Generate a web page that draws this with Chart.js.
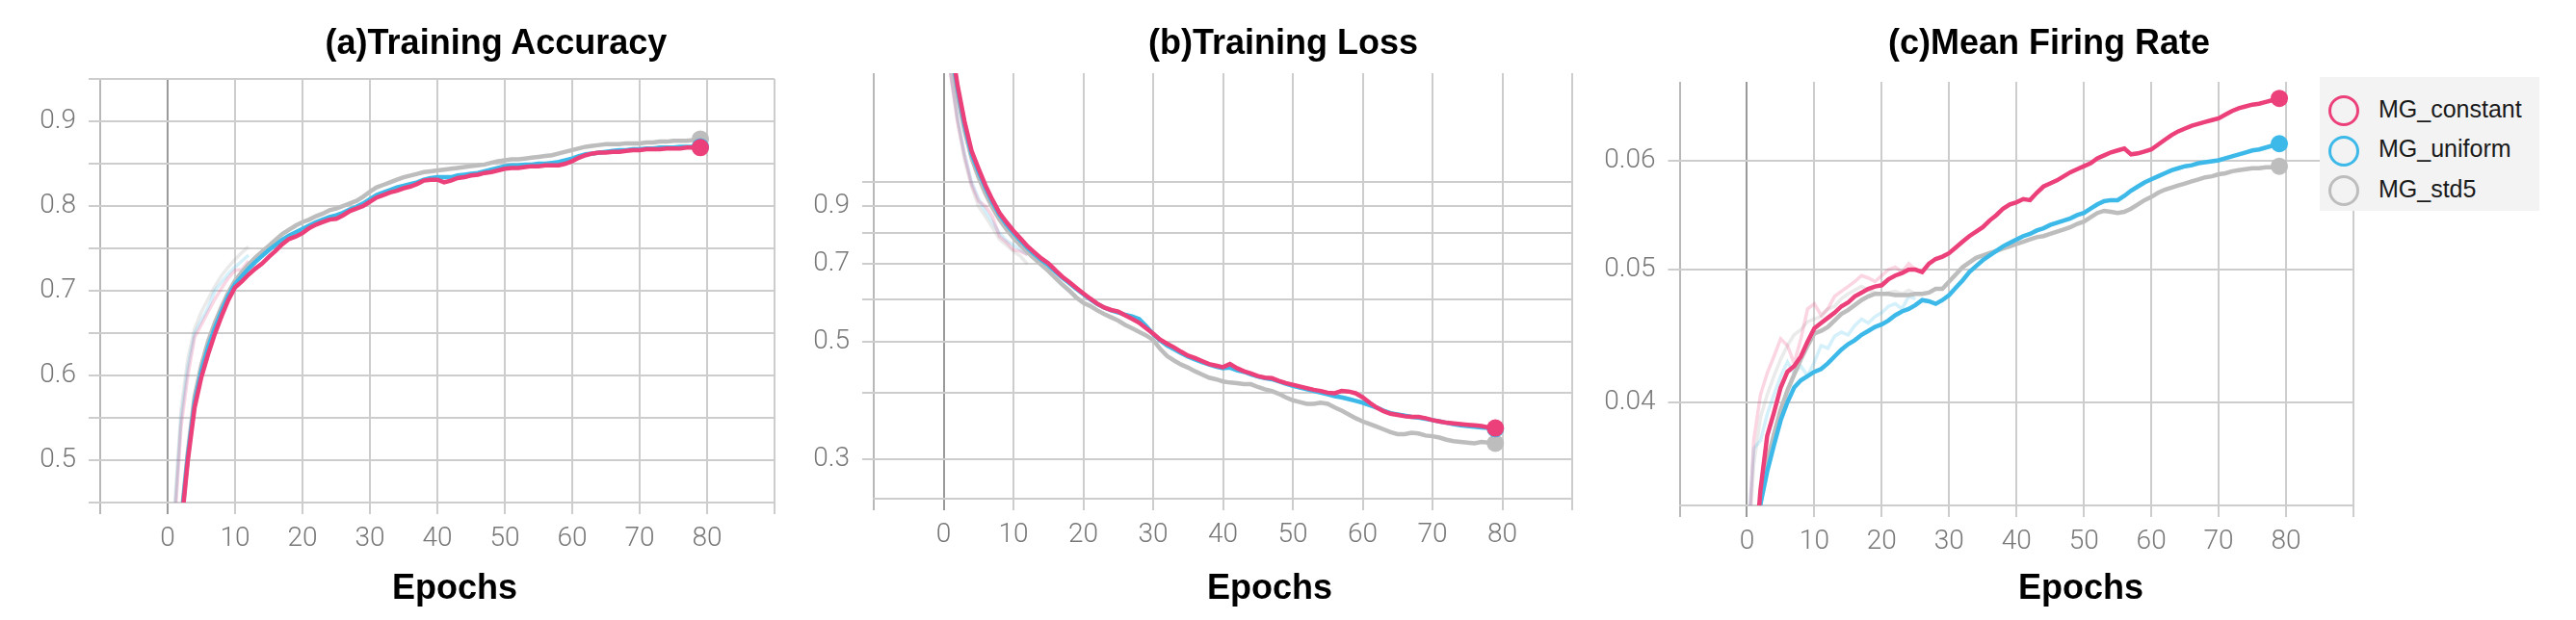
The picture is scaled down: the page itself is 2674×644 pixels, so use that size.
<!DOCTYPE html>
<html lang="en">
<head>
<meta charset="UTF-8">
<title>MG training curves</title>
<script src="https://cdn.jsdelivr.net/npm/chart.js"></script>
<style>
    body {
        margin: 0;
        width: 2674px;
        height: 644px;
        position: relative;
        overflow: hidden;
        background: #fff;
        font-family: 'Liberation Sans', Arial, sans-serif;
    }
    .panel {
        position: absolute;
        top: 0;
        height: 600px;
    }
    .caption {
        position: absolute;
        font-weight: bold;
        font-size: 36px;
        line-height: 36px;
        color: #000;
        white-space: nowrap;
        transform: translateX(-50%);
    }
    .legend {
        position: absolute;
        left: 2408px;
        top: 80px;
        width: 228px;
        height: 139px;
        background: #f3f3f3;
        z-index: 2;
    }
    .legend .dot {
        position: absolute;
        left: 9px;
        width: 26px;
        height: 26px;
        border: 3px solid;
        border-radius: 50%;
    }
    .legend .name {
        position: absolute;
        left: 61px;
        font-size: 25px;
        line-height: 25px;
        color: #1a1a1a;
    }
</style>
</head>
<body>
<div class="panel" style="left:0px;width:830px"><canvas id="accChart"></canvas></div>
<div class="panel" style="left:840px;width:810px"><canvas id="lossChart"></canvas></div>
<div class="panel" style="left:1650px;width:1024px"><canvas id="rateChart"></canvas></div>

<div class="caption" style="left:515px;top:26px">(a)Training Accuracy</div>
<div class="caption" style="left:1332px;top:26px">(b)Training Loss</div>
<div class="caption" style="left:2127px;top:26px">(c)Mean Firing Rate</div>
<div class="caption" style="left:472px;top:592px">Epochs</div>
<div class="caption" style="left:1318px;top:592px">Epochs</div>
<div class="caption" style="left:2160px;top:592px">Epochs</div>

<div class="legend" id="legend"></div>

<script>
const epochs = Array.from({ length: 80 }, (_, i) => i);
const seriesNames = ['MG_constant', 'MG_uniform', 'MG_std5'];
const seriesColors = ['#ec407a', '#3cb9e8', '#bdbdbd'];
const rawColors = ['rgba(236,64,122,0.22)', 'rgba(60,185,232,0.22)', 'rgba(160,160,160,0.22)'];

// (a) training accuracy, smoothed
const accConstant = [0.30, 0.37, 0.42, 0.50, 0.562, 0.598, 0.625, 0.649, 0.670, 0.689,
    0.704, 0.711, 0.719, 0.726, 0.732, 0.740, 0.747, 0.755, 0.761, 0.764,
    0.768, 0.774, 0.778, 0.781, 0.784, 0.785, 0.789, 0.794, 0.797, 0.800,
    0.805, 0.810, 0.813, 0.816, 0.818, 0.821, 0.823, 0.826, 0.830, 0.831,
    0.831, 0.828, 0.830, 0.833, 0.834, 0.836, 0.837, 0.839, 0.840, 0.842,
    0.844, 0.845, 0.845, 0.846, 0.847, 0.847, 0.848, 0.848, 0.848, 0.850,
    0.853, 0.857, 0.860, 0.862, 0.863, 0.863, 0.864, 0.864, 0.865, 0.866,
    0.866, 0.867, 0.867, 0.867, 0.868, 0.868, 0.868, 0.869, 0.869, 0.869];
const accUniform = [0.30, 0.37, 0.425, 0.505, 0.568, 0.605, 0.633, 0.656, 0.676, 0.694,
    0.708, 0.717, 0.726, 0.734, 0.741, 0.748, 0.754, 0.760, 0.765, 0.769,
    0.773, 0.777, 0.781, 0.784, 0.787, 0.789, 0.792, 0.796, 0.799, 0.803,
    0.808, 0.813, 0.816, 0.819, 0.822, 0.824, 0.826, 0.828, 0.831, 0.833,
    0.834, 0.834, 0.834, 0.836, 0.837, 0.838, 0.839, 0.841, 0.843, 0.845,
    0.847, 0.848, 0.848, 0.849, 0.849, 0.850, 0.850, 0.851, 0.852, 0.854,
    0.856, 0.859, 0.861, 0.862, 0.863, 0.864, 0.865, 0.866, 0.866, 0.867,
    0.867, 0.868, 0.868, 0.869, 0.869, 0.869, 0.870, 0.870, 0.870, 0.870];
const accStd5 = [0.31, 0.38, 0.43, 0.51, 0.575, 0.612, 0.640, 0.662, 0.681, 0.698,
    0.712, 0.722, 0.731, 0.739, 0.746, 0.753, 0.760, 0.767, 0.772, 0.777,
    0.781, 0.784, 0.788, 0.791, 0.795, 0.797, 0.800, 0.803, 0.806, 0.811,
    0.817, 0.822, 0.825, 0.828, 0.831, 0.834, 0.836, 0.838, 0.840, 0.841,
    0.842, 0.843, 0.844, 0.845, 0.846, 0.847, 0.848, 0.849, 0.851, 0.853,
    0.854, 0.855, 0.855, 0.856, 0.857, 0.858, 0.859, 0.860, 0.862, 0.864,
    0.866, 0.868, 0.870, 0.871, 0.872, 0.873, 0.873, 0.873, 0.874, 0.874,
    0.874, 0.875, 0.875, 0.876, 0.876, 0.877, 0.877, 0.877, 0.878, 0.879];
// (a) raw (unsmoothed) values, first epochs only
const accRawConstant = [0.33, 0.42, 0.54, 0.60, 0.645, 0.66, 0.675, 0.69, 0.703, 0.715, 0.724, 0.725, 0.735];
const accRawUniform = [0.33, 0.43, 0.55, 0.61, 0.65, 0.665, 0.68, 0.70, 0.71, 0.72, 0.728, 0.735, 0.742];
const accRawStd5 = [0.34, 0.44, 0.56, 0.62, 0.655, 0.675, 0.69, 0.705, 0.718, 0.728, 0.737, 0.745, 0.752];

// (b) training loss, smoothed
const lossConstant = [2.30, 1.85, 1.52, 1.30, 1.145, 1.06, 0.985, 0.925, 0.875, 0.84,
    0.809, 0.783, 0.757, 0.737, 0.718, 0.703, 0.682, 0.663, 0.648, 0.632,
    0.617, 0.603, 0.590, 0.580, 0.574, 0.570, 0.561, 0.552, 0.543, 0.530,
    0.518, 0.505, 0.496, 0.488, 0.479, 0.471, 0.466, 0.460, 0.454, 0.451,
    0.448, 0.454, 0.446, 0.440, 0.436, 0.431, 0.428, 0.427, 0.422, 0.418,
    0.415, 0.412, 0.409, 0.406, 0.404, 0.401, 0.400, 0.404, 0.403, 0.400,
    0.393, 0.384, 0.376, 0.370, 0.366, 0.364, 0.362, 0.361, 0.361, 0.359,
    0.356, 0.354, 0.352, 0.351, 0.350, 0.349, 0.348, 0.347, 0.345, 0.344];
const lossUniform = [2.25, 1.80, 1.50, 1.28, 1.13, 1.045, 0.975, 0.915, 0.868, 0.832,
    0.802, 0.776, 0.752, 0.731, 0.713, 0.697, 0.678, 0.660, 0.645, 0.629,
    0.615, 0.601, 0.589, 0.580, 0.573, 0.568, 0.562, 0.558, 0.552, 0.535,
    0.517, 0.503, 0.492, 0.484, 0.476, 0.469, 0.463, 0.458, 0.453, 0.449,
    0.446, 0.447, 0.442, 0.439, 0.434, 0.430, 0.427, 0.425, 0.421, 0.417,
    0.413, 0.410, 0.407, 0.404, 0.401, 0.398, 0.395, 0.393, 0.390, 0.387,
    0.384, 0.380, 0.376, 0.371, 0.367, 0.365, 0.363, 0.361, 0.360, 0.358,
    0.356, 0.354, 0.352, 0.350, 0.348, 0.347, 0.346, 0.345, 0.344, 0.343];
const lossStd5 = [2.20, 1.75, 1.45, 1.25, 1.11, 1.02, 0.95, 0.895, 0.85, 0.815,
    0.785, 0.760, 0.738, 0.717, 0.698, 0.680, 0.660, 0.641, 0.624, 0.606,
    0.592, 0.584, 0.573, 0.564, 0.556, 0.548, 0.538, 0.530, 0.522, 0.514,
    0.504, 0.485, 0.470, 0.461, 0.453, 0.447, 0.440, 0.434, 0.428, 0.425,
    0.421, 0.419, 0.418, 0.416, 0.416, 0.411, 0.407, 0.404, 0.399, 0.393,
    0.388, 0.385, 0.382, 0.382, 0.384, 0.382, 0.376, 0.371, 0.365, 0.359,
    0.354, 0.350, 0.346, 0.342, 0.338, 0.335, 0.335, 0.337, 0.336, 0.333,
    0.332, 0.330, 0.327, 0.325, 0.324, 0.323, 0.322, 0.324, 0.323, 0.322];
const lossRawConstant = [2.1, 1.6, 1.3, 1.12, 0.99, 0.92, 0.90, 0.86, 0.79, 0.77, 0.745, 0.74, 0.73];
const lossRawUniform = [2.1, 1.62, 1.32, 1.13, 1.0, 0.93, 0.88, 0.84, 0.80, 0.775, 0.76, 0.745, 0.73];
const lossRawStd5 = [2.05, 1.6, 1.3, 1.1, 0.98, 0.9, 0.86, 0.82, 0.78, 0.76, 0.74, 0.725, 0.70];
const lossTicks = [0.3, 0.4, 0.5, 0.6, 0.7, 0.8, 0.9, 1.0];
const lossLabels = [0.3, 0.5, 0.7, 0.9];

// (c) mean firing rate, smoothed
const rateConstant = [0.026, 0.030, 0.0345, 0.0378, 0.0393, 0.0410, 0.0421, 0.0425, 0.0432, 0.0443,
    0.0453, 0.0457, 0.0461, 0.0465, 0.0470, 0.0473, 0.0478, 0.0481, 0.0484, 0.0486,
    0.0487, 0.0492, 0.0495, 0.0497, 0.0500, 0.0500, 0.0498, 0.0505, 0.0509, 0.0511,
    0.0514, 0.0519, 0.0524, 0.0529, 0.0533, 0.0537, 0.0543, 0.0548, 0.0554, 0.0558,
    0.0560, 0.0563, 0.0562, 0.0569, 0.0575, 0.0578, 0.0581, 0.0585, 0.0589, 0.0592,
    0.0595, 0.0598, 0.0603, 0.0606, 0.0609, 0.0611, 0.0613, 0.0607, 0.0608, 0.0610,
    0.0612, 0.0617, 0.0622, 0.0627, 0.0631, 0.0634, 0.0637, 0.0639, 0.0641, 0.0643,
    0.0645, 0.0649, 0.0653, 0.0656, 0.0658, 0.0660, 0.0661, 0.0663, 0.0665, 0.0667];
const rateUniform = [0.027, 0.0305, 0.0337, 0.0356, 0.0372, 0.0388, 0.0400, 0.0410, 0.0415, 0.0418,
    0.0421, 0.0423, 0.0427, 0.0432, 0.0437, 0.0441, 0.0444, 0.0448, 0.0451, 0.0454,
    0.0456, 0.0459, 0.0463, 0.0466, 0.0468, 0.0471, 0.0475, 0.0474, 0.0472, 0.0475,
    0.0479, 0.0485, 0.0491, 0.0498, 0.0503, 0.0508, 0.0512, 0.0516, 0.0520, 0.0523,
    0.0526, 0.0529, 0.0531, 0.0534, 0.0536, 0.0539, 0.0541, 0.0543, 0.0545, 0.0548,
    0.0550, 0.0554, 0.0558, 0.0561, 0.0562, 0.0562, 0.0566, 0.0571, 0.0575, 0.0579,
    0.0582, 0.0585, 0.0588, 0.0591, 0.0593, 0.0595, 0.0596, 0.0598, 0.0599, 0.0600,
    0.0601, 0.0603, 0.0605, 0.0607, 0.0609, 0.0611, 0.0612, 0.0614, 0.0616, 0.0618];
const rateStd5 = [0.027, 0.0305, 0.0338, 0.0362, 0.0379, 0.0395, 0.0408, 0.0419, 0.0430, 0.0440,
    0.0449, 0.0451, 0.0454, 0.0459, 0.0464, 0.0467, 0.0471, 0.0475, 0.0478, 0.0480,
    0.0480, 0.0480, 0.0479, 0.0479, 0.0479, 0.0480, 0.0480, 0.0481, 0.0484, 0.0484,
    0.0490, 0.0496, 0.0502, 0.0506, 0.0510, 0.0512, 0.0514, 0.0516, 0.0518, 0.0520,
    0.0522, 0.0524, 0.0526, 0.0528, 0.0529, 0.0531, 0.0533, 0.0535, 0.0537, 0.0540,
    0.0542, 0.0546, 0.0550, 0.0552, 0.0551, 0.0550, 0.0551, 0.0554, 0.0558, 0.0562,
    0.0565, 0.0569, 0.0572, 0.0574, 0.0576, 0.0578, 0.0580, 0.0582, 0.0584, 0.0585,
    0.0587, 0.0588, 0.0590, 0.0591, 0.0592, 0.0593, 0.0593, 0.0594, 0.0594, 0.0595];
const rateRawConstant = [0.030, 0.0375, 0.0405, 0.0420, 0.0432, 0.0445, 0.0440, 0.0427, 0.0445, 0.0468,
    0.0472, 0.0463, 0.0468, 0.0478, 0.0482, 0.0486, 0.0490, 0.0495, 0.0493, 0.0490,
    0.0495, 0.0500, 0.0502, 0.0498, 0.0505, 0.0500];
const rateRawUniform = [0.031, 0.0370, 0.0375, 0.0392, 0.0405, 0.0418, 0.0428, 0.0420, 0.0425, 0.0418,
    0.0428, 0.0440, 0.0438, 0.0447, 0.0450, 0.0448, 0.0455, 0.0460, 0.0457, 0.0462,
    0.0465, 0.0470, 0.0472, 0.0468, 0.0478, 0.0476];
const rateRawStd5 = [0.030, 0.0360, 0.0390, 0.0405, 0.0418, 0.0430, 0.0440, 0.0448, 0.0452, 0.0458,
    0.0460, 0.0462, 0.0468, 0.0470, 0.0476, 0.0480, 0.0483, 0.0486, 0.0483, 0.0481,
    0.0480, 0.0481, 0.0482, 0.0480, 0.0483, 0.0480];
const rateTicks = [0.04, 0.05, 0.06];

Chart.defaults.font.family = "'Roboto', 'Liberation Sans', sans-serif";
Chart.defaults.animation = false;

const tickFont = { size: 28, weight: 300 };
const tickColor = '#777';
const lineGrey = '#cdcdcd';

function xGridColor(ctx) {
    const v = ctx.tick ? ctx.tick.value : null;
    if (v === 0) return '#9a9a9a';
    if (v === -10) return '#b8b8b8';
    return lineGrey;
}

function buildDatasets(series, raws) {
    const sets = [];
    series.forEach((vals, k) => {
        sets.push({
            label: seriesNames[k],
            data: vals.map((v, i) => ({ x: epochs[i], y: v })),
            borderColor: seriesColors[k],
            backgroundColor: seriesColors[k],
            borderWidth: 4.5,
            pointRadius: ctx => ctx.dataIndex === vals.length - 1 ? 9 : 0,
            pointBorderWidth: 0,
            pointHoverRadius: 0,
            tension: 0,
            order: k
        });
    });
    raws.forEach((vals, k) => {
        sets.push({
            label: seriesNames[k] + ' raw',
            data: vals.map((v, i) => ({ x: epochs[i], y: v })),
            borderColor: rawColors[k],
            borderWidth: 3.5,
            pointRadius: 0,
            tension: 0,
            order: 10 + k
        });
    });
    return sets;
}

function makePanel(id, box, series, raws, yScale) {
    const y = Object.assign({
        border: { display: false },
        grid: { color: lineGrey, lineWidth: 2, tickLength: 12 },
        afterFit: s => { s.width = box.yw; s.paddingTop = 0; s.paddingBottom = 0; }
    }, yScale);
    y.ticks = Object.assign({ padding: 13, color: tickColor, font: tickFont, autoSkip: false }, yScale.ticks);

    return new Chart(document.getElementById(id), {
        type: 'line',
        data: { datasets: buildDatasets(series, raws) },
        options: {
            responsive: true,
            maintainAspectRatio: false,
            animation: false,
            events: [],
            layout: { autoPadding: false, padding: { top: box.top, right: box.right, bottom: 0, left: 0 } },
            plugins: { legend: { display: false }, tooltip: { enabled: false }, title: { display: false } },
            scales: {
                x: {
                    type: 'linear',
                    min: -10,
                    max: 90,
                    bounds: 'data',
                    ticks: {
                        stepSize: 10,
                        autoSkip: false,
                        maxRotation: 0,
                        padding: 9,
                        color: tickColor,
                        font: tickFont,
                        callback: v => (v < 0 || v > 80) ? '' : String(v)
                    },
                    grid: { color: xGridColor, lineWidth: 2, tickLength: 12 },
                    border: { display: true, color: lineGrey, width: 2 },
                    afterFit: s => { s.height = box.xh; s.paddingLeft = 0; s.paddingRight = 0; }
                },
                y: y
            }
        }
    });
}

makePanel('accChart', { yw: 104, xh: 78, top: 82, right: 26 },
    [accConstant, accUniform, accStd5], [accRawConstant, accRawUniform, accRawStd5], {
        type: 'linear',
        min: 0.45,
        max: 0.95,
        bounds: 'data',
        ticks: {
            stepSize: 0.05,
            callback: v => Math.round(v * 100) % 10 === 0 ? v.toFixed(1) : ''
        }
    });

makePanel('lossChart', { yw: 67, xh: 82, top: 76, right: 18 },
    [lossConstant, lossUniform, lossStd5], [lossRawConstant, lossRawUniform, lossRawStd5], {
        type: 'logarithmic',
        min: 0.2532,
        max: 1.603,
        bounds: 'data',
        afterBuildTicks: s => { s.ticks = lossTicks.map(v => ({ value: v })); },
        ticks: {
            callback: v => lossLabels.includes(v) ? v.toFixed(1) : ''
        }
    });

makePanel('rateChart', { yw: 93.5, xh: 75, top: 85, right: 231 },
    [rateConstant, rateUniform, rateStd5], [rateRawConstant, rateRawUniform, rateRawStd5], {
        type: 'logarithmic',
        min: 0.03362,
        max: 0.06858,
        bounds: 'data',
        afterBuildTicks: s => { s.ticks = rateTicks.map(v => ({ value: v })); },
        ticks: {
            callback: v => v.toFixed(2)
        }
    });

// legend in the top right corner
const legend = document.getElementById('legend');
seriesNames.forEach((name, k) => {
    const dot = document.createElement('div');
    dot.className = 'dot';
    dot.style.top = (19 + k * 41.7) + 'px';
    dot.style.borderColor = seriesColors[k];
    legend.appendChild(dot);
    const txt = document.createElement('div');
    txt.className = 'name';
    txt.style.top = (20.5 + k * 41.7) + 'px';
    txt.textContent = name;
    legend.appendChild(txt);
});
</script>
</body>
</html>
